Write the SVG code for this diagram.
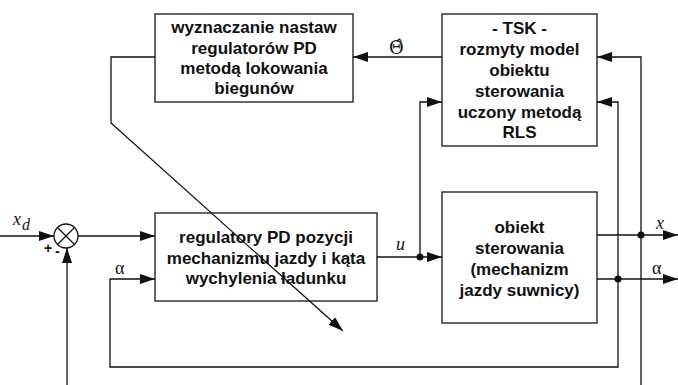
<svg xmlns="http://www.w3.org/2000/svg" width="678" height="385" viewBox="0 0 678 385">
<style>
.box{fill:#fff;stroke:#333;stroke-width:1.5}
.t{font-family:"Liberation Sans",Arial,sans-serif;font-weight:bold;font-size:17px;text-anchor:middle;fill:#111}
.w{fill:none;stroke:#111;stroke-width:1.3}
.m{font-family:"Liberation Serif","Times New Roman",serif;font-style:italic;font-size:18px;fill:#111}
.g{font-family:"Liberation Serif","Times New Roman",serif;font-size:18px;fill:#111}
.s{font-family:"Liberation Sans",Arial,sans-serif;font-weight:bold;font-size:14px;fill:#111}
</style>
<defs>
<marker id="a" markerUnits="userSpaceOnUse" markerWidth="16" markerHeight="12" refX="15" refY="5" orient="auto">
<path d="M0,0 L15,5 L0,10 Z" fill="#111"/>
</marker>
</defs>
<g id="sum">
<circle cx="66" cy="236" r="12" fill="#fff" stroke="#111" stroke-width="1.3"/>
<line class="w" x1="57.5" y1="227.5" x2="74.5" y2="244.5"/>
<line class="w" x1="74.5" y1="227.5" x2="57.5" y2="244.5"/>
<text class="s" x="44" y="253">+</text>
<text class="s" x="55" y="256">-</text>
</g>
<g id="wyznaczanie">
<rect class="box" x="155" y="14" width="198" height="88"/>
<text class="t" x="254" y="33">wyznaczanie nastaw</text>
<text class="t" x="254" y="54">regulatorów PD</text>
<text class="t" x="254" y="74">metodą lokowania</text>
<text class="t" x="254" y="94">biegunów</text>
</g>
<g id="tsk">
<rect class="box" x="442" y="14" width="155" height="132"/>
<text class="t" x="519.5" y="34">- TSK -</text>
<text class="t" x="519.5" y="55">rozmyty model</text>
<text class="t" x="519.5" y="76">obiektu</text>
<text class="t" x="519.5" y="97">sterowania</text>
<text class="t" x="519.5" y="118">uczony metodą</text>
<text class="t" x="519.5" y="138">RLS</text>
</g>
<g id="regulatory">
<rect class="box" x="155" y="213" width="222" height="88"/>
<text class="t" x="266" y="243">regulatory PD pozycji</text>
<text class="t" x="266" y="264">mechanizmu jazdy i kąta</text>
<text class="t" x="266" y="284">wychylenia ładunku</text>
</g>
<g id="obiekt">
<rect class="box" x="442" y="192" width="155" height="131"/>
<text class="t" x="519.5" y="233">obiekt</text>
<text class="t" x="519.5" y="254">sterowania</text>
<text class="t" x="519.5" y="275">(mechanizm</text>
<text class="t" x="519.5" y="296">jazdy suwnicy)</text>
</g>
<g id="connectors">
<line class="w" x1="0" y1="236" x2="54" y2="236" marker-end="url(#a)"/>
<line class="w" x1="67" y1="385" x2="67" y2="248" marker-end="url(#a)"/>
<line class="w" x1="78" y1="236" x2="155" y2="236" marker-end="url(#a)"/>
<polyline class="w" points="618,279 618,367 110,367 110,279 155,279" marker-end="url(#a)"/>
<line class="w" x1="377" y1="257" x2="442" y2="257" marker-end="url(#a)"/>
<polyline class="w" points="420,257 420,102 442,102" marker-end="url(#a)"/>
<line class="w" x1="597" y1="235" x2="678" y2="235" marker-end="url(#a)"/>
<line class="w" x1="597" y1="279" x2="678" y2="279" marker-end="url(#a)"/>
<polyline class="w" points="641,385 641,57 597,57" marker-end="url(#a)"/>
<polyline class="w" points="618,279 618,102 597,102" marker-end="url(#a)"/>
<line class="w" x1="442" y1="57" x2="353" y2="57" marker-end="url(#a)"/>
<polyline class="w" points="155,57 111,57 111,123 343,331" marker-end="url(#a)"/>
<circle cx="420" cy="257" r="3.5" fill="#111"/>
<circle cx="641" cy="235" r="3.5" fill="#111"/>
<circle cx="618" cy="279" r="3.5" fill="#111"/>
<text class="m" x="396" y="250">u</text>
<text class="m" x="656" y="229">x</text>
<text class="g" x="652" y="274">α</text>
<text class="g" x="115" y="274">α</text>
<text x="389" y="54" font-family="'DejaVu Serif',serif" font-size="18" fill="#111">Θ̂</text>
<text class="m" x="13" y="225">x<tspan font-size="16" dy="5" dx="1">d</tspan></text>
</g>
</svg>
